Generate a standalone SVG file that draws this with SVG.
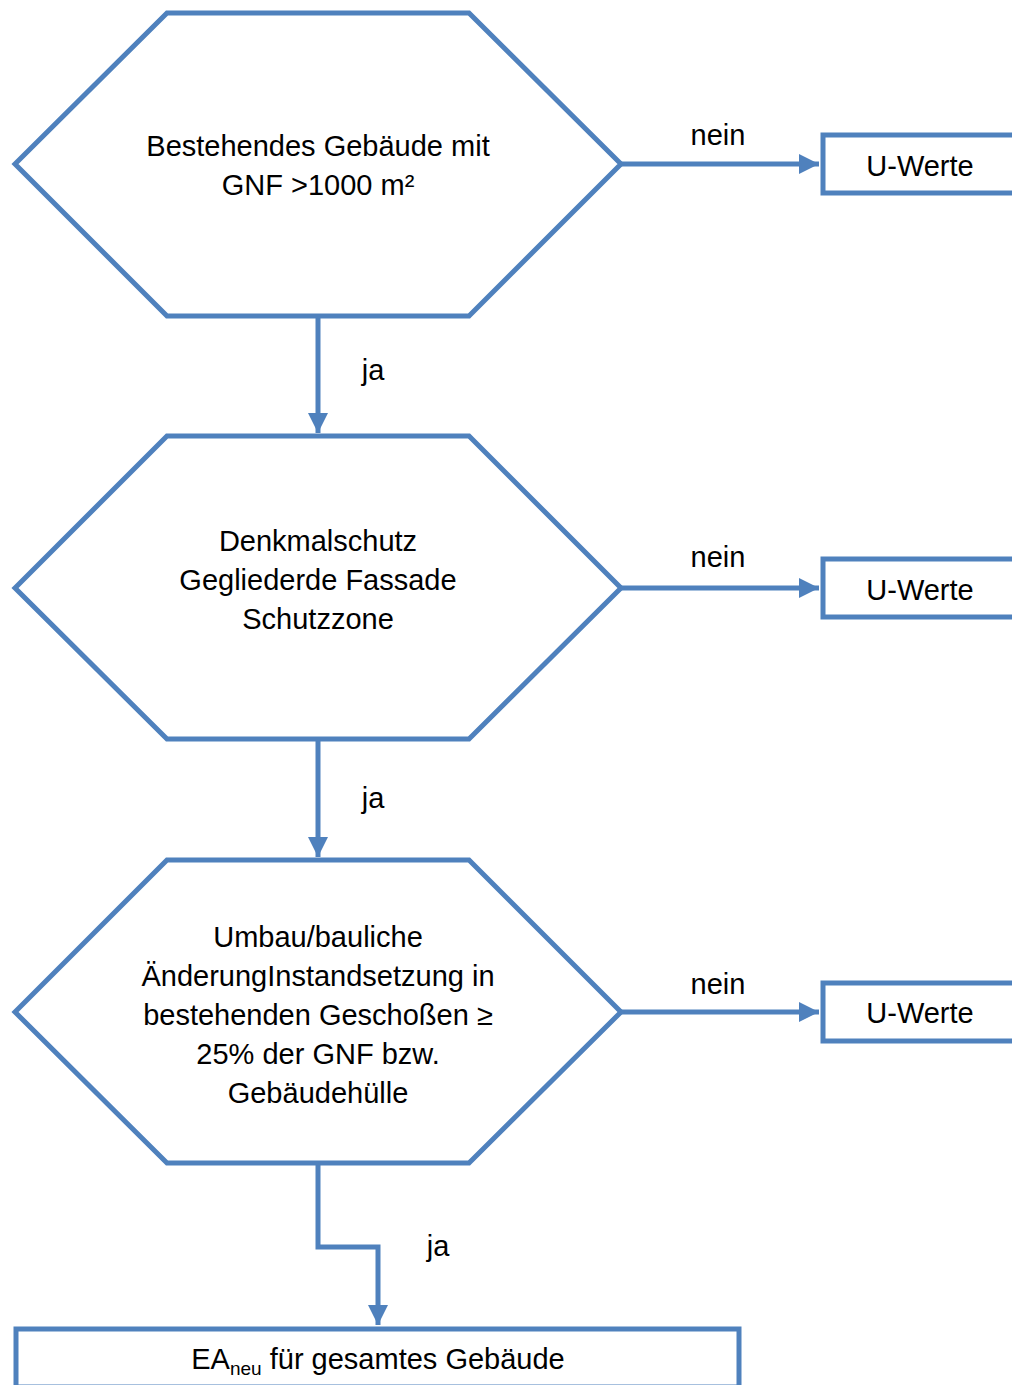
<svg xmlns="http://www.w3.org/2000/svg" width="1012" height="1385" viewBox="0 0 1012 1385">
<style>
.shape{fill:#fff;stroke:#4F81BD;stroke-width:5;stroke-linejoin:miter}
.conn{fill:none;stroke:#4F81BD;stroke-width:5}
text{font-family:"Liberation Sans",Arial,sans-serif;font-size:29px;fill:#000;text-anchor:middle}
</style>
<defs>
<marker id="ah" viewBox="0 0 20 20" refX="20" refY="10" markerWidth="20" markerHeight="20" markerUnits="userSpaceOnUse" orient="auto">
<path d="M0,0 L20,10 L0,20 Z" fill="#4F81BD"/>
</marker>
</defs>
<rect width="1012" height="1385" fill="#fff"/>
<g id="connectors">
<path class="conn" d="M621,164 L819,164" marker-end="url(#ah)"/>
<path class="conn" d="M621,588 L819,588" marker-end="url(#ah)"/>
<path class="conn" d="M621,1012 L819,1012" marker-end="url(#ah)"/>
<path class="conn" d="M318,316 L318,433" marker-end="url(#ah)"/>
<path class="conn" d="M318,739 L318,857" marker-end="url(#ah)"/>
<path class="conn" d="M318,1163 L318,1247 L378,1247 L378,1325" marker-end="url(#ah)"/>
<text x="718" y="145">nein</text>
<text x="718" y="567">nein</text>
<text x="718" y="994">nein</text>
<text x="373" y="380">ja</text>
<text x="373" y="808">ja</text>
<text x="438" y="1256">ja</text>
</g>
<g id="node1">
<polygon class="shape" points="15,164 167,13 469,13 621,164 469,316 167,316"/>
<text x="318" y="156">Bestehendes Gebäude mit</text>
<text x="318" y="195">GNF &gt;1000 m²</text>
</g>
<g id="node2">
<polygon class="shape" points="15,588 167,436 469,436 621,588 469,739 167,739"/>
<text x="318" y="551">Denkmalschutz</text>
<text x="318" y="590">Gegliederde Fassade</text>
<text x="318" y="629">Schutzzone</text>
</g>
<g id="node3">
<polygon class="shape" points="15,1012 167,860 469,860 621,1012 469,1163 167,1163"/>
<text x="318" y="947">Umbau/bauliche</text>
<text x="318" y="986">ÄnderungInstandsetzung in</text>
<text x="318" y="1025">bestehenden Geschoßen ≥</text>
<text x="318" y="1064">25% der GNF bzw.</text>
<text x="318" y="1103">Gebäudehülle</text>
</g>
<g id="box1">
<rect class="shape" x="823" y="135" width="200" height="58"/>
<text x="920" y="176">U-Werte</text>
</g>
<g id="box2">
<rect class="shape" x="823" y="559" width="200" height="58"/>
<text x="920" y="600">U-Werte</text>
</g>
<g id="box3">
<rect class="shape" x="823" y="983" width="200" height="58"/>
<text x="920" y="1023">U-Werte</text>
</g>
<g id="box4">
<rect class="shape" x="16" y="1329" width="723" height="58"/>
<text x="378" y="1369">EA<tspan font-size="19" dy="6">neu</tspan><tspan dy="-6"> für gesamtes Gebäude</tspan></text>
</g>
</svg>
